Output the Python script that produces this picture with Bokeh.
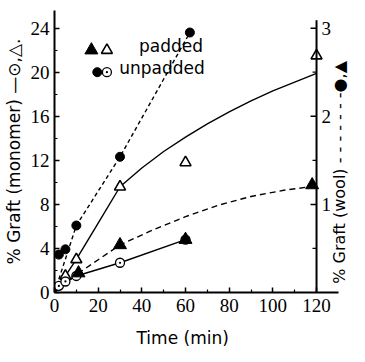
import math
from bokeh.plotting import figure
from bokeh.models import Range1d, FixedTicker, Label, Title
from bokeh.core.properties import value
from bokeh.embed import file_html
from bokeh.resources import INLINE

# ---------------- data ----------------
# monomer graft (left axis, %), open symbols, solid lines
pad_mono_t = [5, 10, 30, 60, 120]
pad_mono_y = [1.5, 3.0, 9.6, 11.8, 21.5]
unpad_mono_t = [2, 5, 10, 30, 60]
unpad_mono_y = [0.6, 1.0, 1.5, 2.7, 4.8]
# wool graft (right axis, %), filled symbols, dashed lines
pad_wool_t = [11, 30, 60, 118]
pad_wool_y = [0.22, 0.54, 0.60, 1.22]
unpad_wool_t = [2, 5, 10, 30, 62]
unpad_wool_y = [0.43, 0.49, 0.76, 1.54, 2.95]

# drawn curves
pad_mono_curve_t = [0, 5, 10, 20, 30, 40, 50, 60, 70, 80, 90, 100, 110, 120]
pad_mono_curve_y = [0, 1.5, 3.0, 6.3, 9.6, 11.3, 12.8, 14.1, 15.3, 16.4, 17.4, 18.3, 19.1, 19.9]
unpad_mono_line_t = [0, 2, 5, 10, 30, 60]
unpad_mono_line_y = [0, 0.6, 1.0, 1.5, 2.7, 4.8]
pad_wool_curve_t = [0, 11, 30, 45, 60, 75, 90, 105, 120]
pad_wool_curve_y = [0, 0.22, 0.54, 0.71, 0.86, 0.99, 1.09, 1.16, 1.21]
unpad_wool_line_t = [0, 10, 30, 62]
unpad_wool_line_y = [0, 0.76, 1.54, 2.95]

# ticks
x_ticks = [0, 20, 40, 60, 80, 100, 120]
x_minor = [10, 30, 50, 70, 90, 110]
y_ticks = [0, 4, 8, 12, 16, 20, 24]
y_minor = [2, 6, 10, 14, 18, 22]
wool_ticks = [1, 2, 3]
wool_minor = [0.5, 1.5, 2.5]
wool_labels = ["1", "2", "3"]

legend_labels = ["padded", "unpadded"]

# ---------------- styles / layout ----------------
TICK_FONT = "Liberation Sans Narrow"
TEXT_FONT = "DejaVu Sans"
RIGHT_AXIS_X = 120
RIGHT_AXIS_TOP = 3.09
X_AXIS_END = 130

p = figure(width=349, height=358,
           x_range=Range1d(0, 135.1), y_range=Range1d(0, 25.6),
           output_backend="svg", toolbar_location=None,
           min_border_left=45, min_border_right=0,
           min_border_top=10, min_border_bottom=61)
p.extra_y_ranges = {"wool": Range1d(0, 3.2)}
p.outline_line_color = None
p.xgrid.visible = False
p.ygrid.visible = False
p.background_fill_color = "white"
p.border_fill_color = "white"

for ax in (p.xaxis[0], p.yaxis[0]):
    ax.axis_line_width = 2
    ax.axis_line_color = "black"
    ax.major_tick_in = 5
    ax.major_tick_out = 0
    ax.minor_tick_in = 3
    ax.minor_tick_out = 0
    ax.major_tick_line_width = 1.5
    ax.minor_tick_line_width = 1.2
    ax.major_tick_line_color = "black"
    ax.minor_tick_line_color = "black"
    ax.major_label_text_font = TICK_FONT
    ax.major_label_text_font_size = "19px"
    ax.major_label_text_color = "black"

p.xaxis[0].ticker = FixedTicker(ticks=x_ticks, minor_ticks=x_minor)
p.xaxis[0].bounds = (0, X_AXIS_END)
p.yaxis[0].ticker = FixedTicker(ticks=y_ticks, minor_ticks=y_minor)
p.xaxis[0].major_label_standoff = 6
p.yaxis[0].major_label_standoff = 5

p.yaxis[0].axis_label = "% Graft (monomer) \u2014\u2299,\u25b3."
p.yaxis[0].axis_label_text_font = TEXT_FONT
p.yaxis[0].axis_label_text_font_size = "17px"
p.yaxis[0].axis_label_text_font_style = "normal"
p.yaxis[0].axis_label_standoff = 4
p.yaxis[0].axis_label_text_color = "black"

# ---------------- lines ----------------
p.line(pad_mono_curve_t, pad_mono_curve_y, line_color="black", line_width=1.4)
p.line(unpad_mono_line_t, unpad_mono_line_y, line_color="black", line_width=1.4)
p.line(pad_wool_curve_t, pad_wool_curve_y, line_color="black", line_width=1.4,
       line_dash="6 4", y_range_name="wool")
p.line(unpad_wool_line_t, unpad_wool_line_y, line_color="black", line_width=1.4,
       line_dash="4 3", y_range_name="wool")

# ---------------- markers ----------------
p.scatter(pad_mono_t, pad_mono_y, marker="triangle", size=11,
          fill_color="white", line_color="black", line_width=1.6)
p.scatter(unpad_mono_t, unpad_mono_y, marker="circle_dot", size=9,
          fill_color="white", line_color="black", line_width=1.3)
p.scatter(pad_wool_t, pad_wool_y, marker="triangle", size=13,
          fill_color="black", line_color="black", y_range_name="wool")
p.scatter(unpad_wool_t, unpad_wool_y, marker="circle", size=9,
          fill_color="black", line_color="black", y_range_name="wool")

# ---------------- right (wool) axis at t = 120 ----------------
p.segment(x0=[RIGHT_AXIS_X], y0=[0], x1=[RIGHT_AXIS_X], y1=[RIGHT_AXIS_TOP],
          line_color="black", line_width=2, y_range_name="wool")
p.ray(x=[RIGHT_AXIS_X] * len(wool_ticks), y=wool_ticks, length=6, length_units="screen",
      angle=math.pi, line_color="black", line_width=1.5, y_range_name="wool")
p.ray(x=[RIGHT_AXIS_X] * len(wool_minor), y=wool_minor, length=4, length_units="screen",
      angle=math.pi, line_color="black", line_width=1.2, y_range_name="wool")
p.text(x=[RIGHT_AXIS_X] * len(wool_ticks), y=wool_ticks, text=wool_labels,
       x_offset=5, text_align="left", text_baseline="middle",
       text_font=value(TICK_FONT), text_font_size="19px", text_color="black",
       y_range_name="wool")

# ---------------- legend ----------------
p.scatter([16.9], [22.0], marker="triangle", size=13, fill_color="black", line_color="black")
p.scatter([24.0], [22.0], marker="triangle", size=11, fill_color="white",
          line_color="black", line_width=1.6)
p.scatter([19.6], [20.0], marker="circle", size=9, fill_color="black", line_color="black")
p.scatter([24.0], [20.0], marker="circle_dot", size=9, fill_color="white",
          line_color="black", line_width=1.3)
p.text(x=[68.0, 68.8], y=[22.4, 20.4], text=legend_labels,
       text_align="right", text_baseline="middle",
       text_font=value(TEXT_FONT), text_font_size="17px", text_color="black")

# ---------------- other axis titles ----------------
p.add_layout(Label(x=130.6, y=10.9, text="% Graft (wool) - - - - - - -\u25cf,\u25b2",
                   angle=math.pi / 2, text_align="center", text_baseline="middle",
                   text_font=TEXT_FONT, text_font_size="16px", text_color="black"))
p.add_layout(Title(text="Time (min)", align="left", offset=82, standoff=22,
                   text_font=TEXT_FONT, text_font_size="17px",
                   text_font_style="normal", text_color="black"), "below")

open("out.html", "w").write(file_html(p, INLINE))
